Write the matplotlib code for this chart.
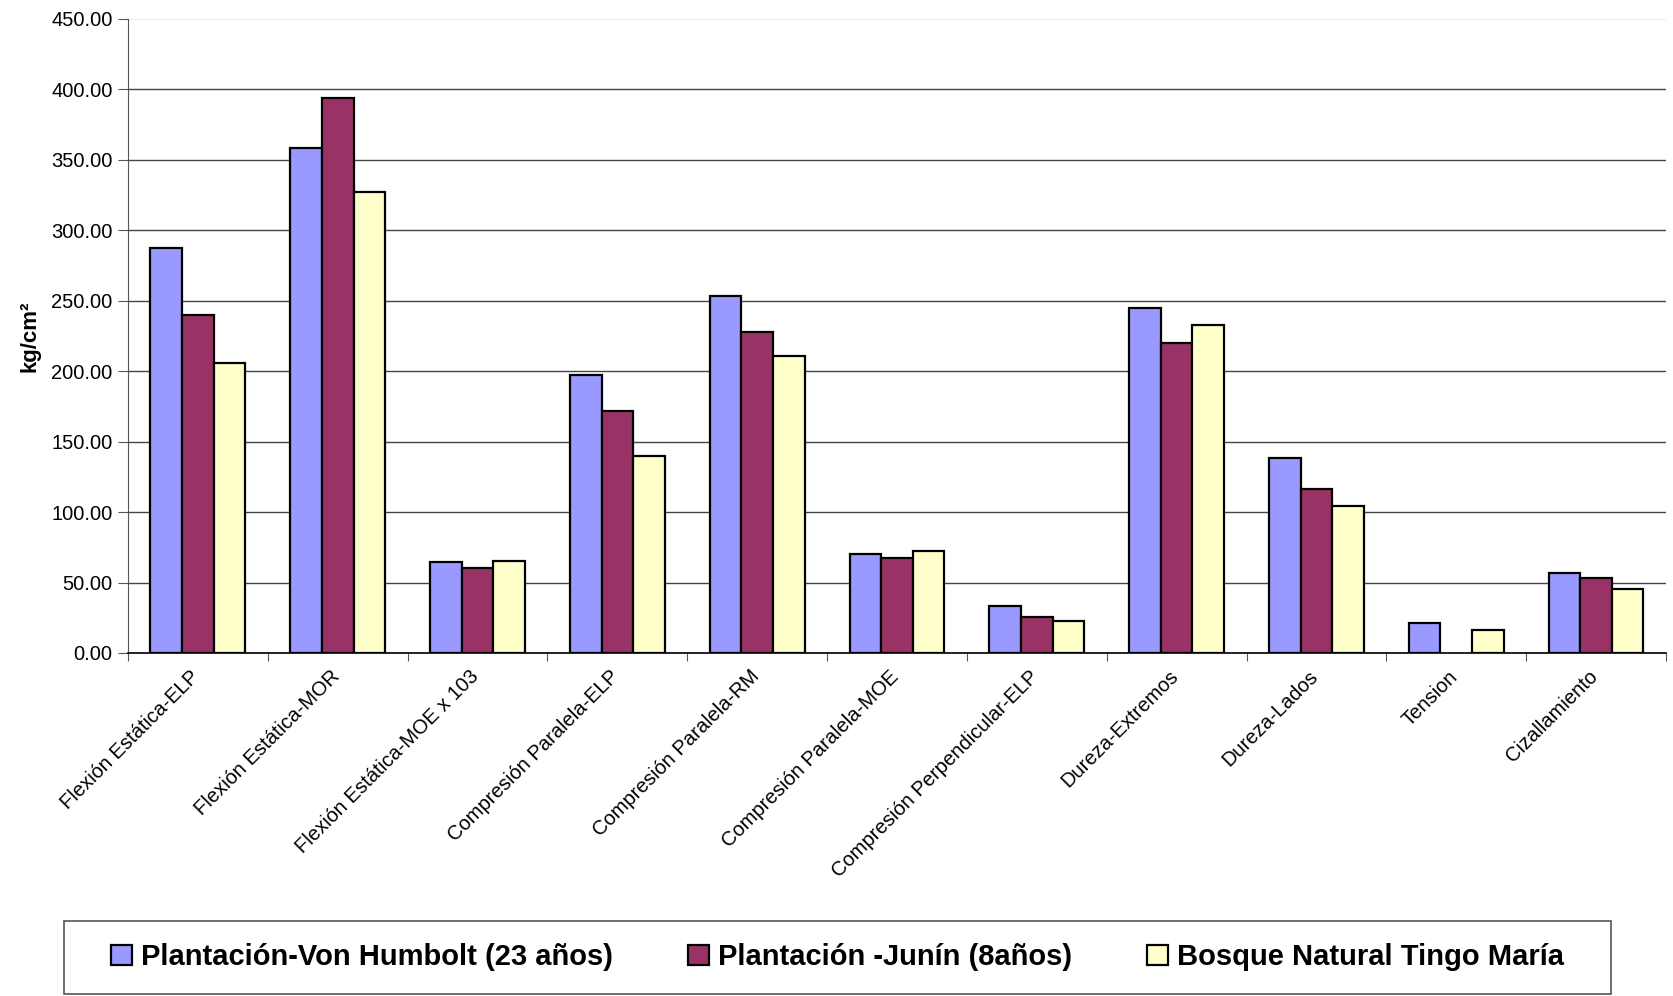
import matplotlib
matplotlib.use("Agg")
import matplotlib.pyplot as plt
import matplotlib.transforms as mtransforms
from matplotlib import font_manager
from matplotlib.patches import Rectangle
import numpy as np

plt.rcParams['font.family'] = ['Liberation Sans', 'DejaVu Sans']

# categorias del eje x
categorias = [
    "Flexión Estática-ELP",
    "Flexión Estática-MOR",
    "Flexión Estática-MOE x 103",
    "Compresión Paralela-ELP",
    "Compresión Paralela-RM",
    "Compresión Paralela-MOE",
    "Compresión Perpendicular-ELP",
    "Dureza-Extremos",
    "Dureza-Lados",
    "Tension",
    "Cizallamiento",
]

# valores (kg/cm2)
von_humbolt = [287.0, 358.5, 64.5, 197.5, 253.5, 70.5, 33.0, 245.0, 138.5, 21.5, 56.5]
junin = [240.0, 394.0, 60.5, 172.0, 227.5, 67.5, 25.5, 220.0, 116.5, 0.0, 53.5]
tingo_maria = [206.0, 327.0, 65.5, 140.0, 210.5, 72.5, 22.5, 232.5, 104.5, 16.5, 45.5]

series = [
    ("Plantación-Von Humbolt (23 años)", von_humbolt, "#9999FF"),
    ("Plantación -Junín (8años)", junin, "#993366"),
    ("Bosque Natural Tingo María", tingo_maria, "#FFFFCC"),
]

fig = plt.figure(figsize=(16.73, 9.96), dpi=100)
ax = fig.add_axes([0.0765, 0.3444, 0.9193, 0.6368])

x = np.arange(len(categorias))
ancho = 0.226

for i, (nombre, vals, color) in enumerate(series):
    vals = np.array(vals)
    pos = x + (i - 1) * ancho
    mask = vals > 0
    ax.bar(pos[mask], vals[mask], width=ancho, color=color, edgecolor="black",
           linewidth=1.6, label=nombre, zorder=3)

ax.set_xlim(-0.5, len(categorias) - 0.5)
ax.set_ylim(0, 450)
ax.set_yticks(np.arange(0, 451, 50))
ax.set_yticklabels([f"{v:.2f}" for v in np.arange(0, 451, 50)], fontsize=14.5)

# ticks entre categorias (estilo excel)
ax.set_xticks(np.arange(-0.5, len(categorias), 1.0))
ax.set_xticklabels([])
ax.set_xticks(x, minor=True)
ax.set_xticklabels(categorias, minor=True, rotation=45, ha="right", va="top",
                   rotation_mode="anchor", fontsize=14.5)
ax.tick_params(axis="x", which="minor", length=0, pad=10)
ax.tick_params(axis="x", which="major", length=6, color="#555555")
ax.tick_params(axis="y", length=7, color="#555555", pad=4)

# corre las etiquetas un poco a la izquierda
offset = mtransforms.ScaledTranslation(-8 / 100, 0, fig.dpi_scale_trans)
for lab in ax.get_xticklabels(minor=True):
    lab.set_transform(lab.get_transform() + offset)

ax.yaxis.grid(True, color="#444444", linewidth=1.0, zorder=0)
ax.set_axisbelow(True)
ax.get_ygridlines()[-1].set_color("#eeeeee")

for s in ["top", "right"]:
    ax.spines[s].set_visible(False)
ax.spines["left"].set_color("#555555")
ax.spines["bottom"].set_color("black")
ax.spines["bottom"].set_linewidth(1.2)

ax.set_ylabel("kg/cm²", fontsize=16, fontweight="bold")
ax.yaxis.set_label_coords(-0.057, 0.5)

# leyenda: caja aparte y entradas centradas
nombres = {f.name for f in font_manager.fontManager.ttflist}
if "Liberation Sans Narrow" in nombres:
    leg_prop = {"family": "Liberation Sans Narrow", "weight": "bold", "size": 24}
    colsp = 2.3
else:
    leg_prop = {"family": "Liberation Sans", "weight": "bold", "size": 21}
    colsp = 2.6

caja = Rectangle((0.0383, 0.002), 0.9247, 0.0733, transform=fig.transFigure,
                 facecolor="white", edgecolor="#555555", linewidth=1.2)
fig.patches.append(caja)

leg = fig.legend(loc="center", bbox_to_anchor=(0.5006, 0.0387), ncol=3,
                 prop=leg_prop, frameon=False,
                 handlelength=0.7, handleheight=0.7, handletextpad=0.3,
                 borderpad=0.2, columnspacing=colsp)

fig.savefig("out.png", dpi=100)
